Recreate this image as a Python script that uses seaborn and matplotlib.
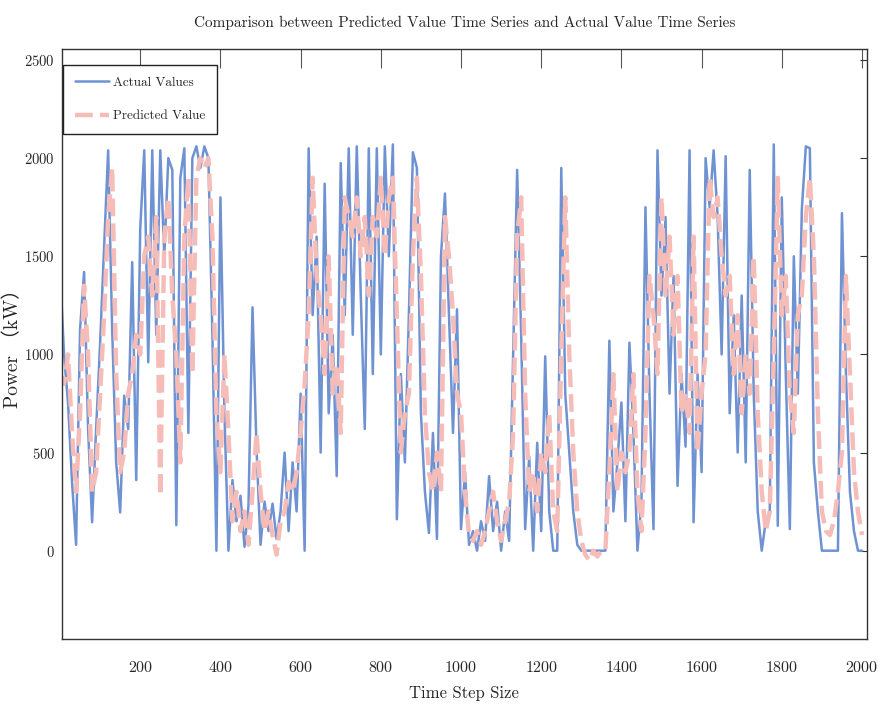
import numpy as np
import pandas as pd
import matplotlib
matplotlib.use("Agg")
import matplotlib.pyplot as plt
import seaborn as sns

# 时间步（每10步读取一次）
steps = list(range(0, 2001, 10))

# 实际值 (kW)
actual_values = [
    1430, 1000, 750, 350, 30, 1130, 1420, 620, 145, 620,
    1060, 1550, 2040, 1130, 450, 195, 790, 620, 1470, 360,
    1640, 2040, 960, 2040, 1100, 2040, 1500, 2000, 1940, 130,
    1900, 2050, 600, 2000, 2060, 1950, 2060, 2000, 1100, 0,
    1800, 700, 0, 360, 150, 280, 20, 230, 1240, 520,
    30, 250, 100, 240, 60, 200, 500, 100, 450, 200,
    800, 0, 2050, 1200, 1600, 500, 1870, 700, 1100, 380,
    1975, 1200, 2050, 1100, 2060, 1300, 620, 2050, 900, 2050,
    1000, 2060, 1500, 2070, 160, 900, 450, 1200, 2030, 1950,
    700, 300, 90, 600, 60, 1500, 1820, 1200, 600, 1230,
    110, 400, 30, 100, 0, 150, 50, 380, 100, 250,
    0, 200, 50, 1000, 1940, 1100, 110, 480, 0, 550,
    100, 990, 200, 0, 0, 1950, 800, 500, 200, 30,
    0, 0, 0, 0, 0, 0, 0, 1070, 200, 450,
    755, 150, 1060, 600, 0, 250, 1750, 800, 110, 2040,
    1300, 1700, 800, 1400, 330, 900, 530, 2040, 145, 900,
    400, 2000, 1750, 2040, 1700, 1000, 2010, 700, 1200, 500,
    1300, 450, 1940, 800, 200, 0, 150, 200, 2070, 127,
    1800, 900, 110, 1500, 800, 1740, 2060, 2050, 450, 200,
    0, 0, 0, 0, 0, 1720, 900, 300, 100, 0,
    0,
]

# 预测值 (kW)
predicted_values = [
    900, 850, 1000, 600, 300, 700, 1350, 1000, 300, 400,
    800, 1200, 1700, 1950, 900, 400, 500, 800, 900, 1100,
    1000, 1500, 1600, 1300, 1700, 280, 1600, 1800, 1300, 1000,
    450, 1600, 1900, 900, 1900, 2000, 1950, 2000, 1600, 700,
    400, 1000, 600, 150, 300, 100, 200, 30, 300, 600,
    300, 100, 200, 80, -20, 150, 200, 350, 300, 400,
    600, 850, 1200, 1900, 1400, 1200, 900, 1500, 800, 950,
    600, 1800, 1700, 1600, 1800, 1500, 1700, 1300, 1700, 1600,
    1900, 1500, 1800, 1900, 1200, 500, 700, 800, 1500, 1900,
    1400, 700, 400, 300, 500, 300, 1700, 1500, 1200, 800,
    700, 300, 80, 50, 100, 30, 100, 200, 300, 150,
    50, 150, 250, 600, 1600, 1800, 800, 300, 400, 200,
    500, 400, 700, 200, 100, 1000, 1800, 1000, 500, 200,
    50, -20, -50, 0, -30, 0, 0, 400, 900, 300,
    500, 400, 500, 900, 300, 100, 600, 1400, 1200, 900,
    1800, 1300, 1600, 1100, 1400, 700, 800, 600, 1600, 500,
    800, 1000, 1900, 1700, 1800, 1500, 1300, 1400, 900, 1200,
    700, 1000, 800, 1500, 700, 300, 100, 200, 1000, 1900,
    1200, 1400, 800, 600, 1200, 1300, 1700, 1900, 1500, 700,
    200, 100, 80, 150, 300, 500, 1400, 900, 400, 200,
    80,
]

df = pd.DataFrame({"step": steps, "actual": actual_values, "pred": predicted_values})

sns.set_style("white")
plt.rcParams["font.family"] = ["cmr10", "Noto Sans CJK SC", "DejaVu Sans"]
plt.rcParams["axes.formatter.use_mathtext"] = True

fig = plt.figure(figsize=(8.8, 7.26), dpi=100)
ax = fig.add_axes([0.0705, 0.1198, 0.9145, 0.8127])

sns.lineplot(data=df, x="step", y="actual", ax=ax, color="#6e92d2",
             linewidth=1.8, label="Actual Values")
sns.lineplot(data=df, x="step", y="pred", ax=ax, color="#f6bdb8",
             linewidth=3.2, label="Predicted Value")
ax.lines[1].set_dashes([4, 1.6])

ax.set_xlim(5, 2012)
ax.set_ylim(-450, 2556)
ax.set_xticks(range(200, 2001, 200))
ax.set_yticks(range(0, 2501, 500))

for s in ax.spines.values():
    s.set_color("#333333")
    s.set_linewidth(1.0)

ax.tick_params(axis="x", direction="in", length=14, width=0.8, top=True,
               labelsize=11.5, pad=15, color="#555555")
ax.tick_params(axis="y", direction="in", length=5, width=0.8, right=True,
               labelsize=10.5, pad=5, color="#333333")

ax.set_title("Comparison between Predicted Value Time Series and Actual Value Time Series",
             fontsize=11, pad=16)
ax.set_xlabel("Time Step Size", fontsize=12, labelpad=8)
ax.set_ylabel("Power （kW）", fontsize=14)
ax.yaxis.set_label_coords(-0.05, 0.5)

leg = ax.legend(loc="upper left", bbox_to_anchor=(0.001, 0.973), borderaxespad=0,
                fontsize=9.5, frameon=True, fancybox=False, framealpha=1,
                edgecolor="#222222", handlelength=2.6, handletextpad=0.3,
                labelspacing=1.6, borderpad=0.9)
leg.get_frame().set_linewidth(1.0)

fig.savefig("out.png", dpi=100)
